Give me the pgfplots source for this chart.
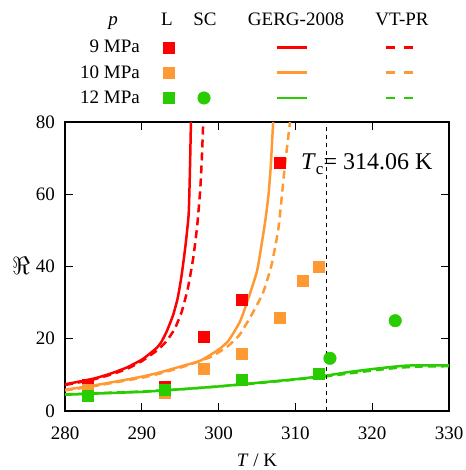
\documentclass[border=0pt]{standalone}
\usepackage{fontspec}
\setmainfont{Liberation Serif}
\usepackage{pgfplots}
\pgfplotsset{compat=1.18}

\definecolor{cRed}{RGB}{255,0,0}
\definecolor{cOrange}{RGB}{255,153,51}
\definecolor{cGreen}{RGB}{40,204,0}

\newcommand{\tickfont}{\fontsize{19}{22}\selectfont}
\newcommand{\legfont}{\fontsize{19}{22}\selectfont}

\pgfplotsset{
  gerg/.style={line width=2.5pt, smooth, tension=0.3},
  vtpr/.style={line width=2.5pt, dash pattern=on 8pt off 5pt, smooth, tension=0.3},
  liq/.style={only marks, mark=square*, mark size=5.5pt, mark options={draw=#1, fill=#1}, color=#1},
  sc/.style={only marks, mark=*, mark size=6.3pt, mark options={draw=#1, fill=#1}, color=#1},
}

\begin{document}
\begin{tikzpicture}
\useasboundingbox (-65pt,-59pt) rectangle (400pt,411pt);

% ---------------- main plot ----------------
\begin{axis}[
  at={(0pt,0pt)}, anchor=south west,
  scale only axis, width=384pt, height=289pt,
  xmin=280, xmax=330, ymin=0, ymax=80,
  xtick={280,290,...,330}, ytick={0,20,...,80},
  tick align=inside, major tick length=8pt,
  every tick/.style={black, line width=1.2pt},
  axis line style={line width=1.4pt},
  ticklabel style={font=\tickfont, inner sep=0pt},
  xticklabel style={yshift=-16pt},
  yticklabel style={xshift=-10pt},
  /pgf/number format/assume math mode=true,
  clip=true,
]

% GERG-2008
\addplot[cRed, gerg] coordinates {
 (280,7.4)(282,8.2)(284,9.1)(286,10.4)(288,12.0)(290,14.2)(291,15.8)(292,17.6)
 (292.6,19.3)(293.3,22.3)(294.1,26.7)(294.7,31.5)(295.2,37.8)(295.7,46)(296.1,54.4)
 (296.25,65)(296.4,80)};
\addplot[cOrange, gerg] coordinates {
 (280,5.9)(283,6.8)(287,8.3)(290,9.5)(292.4,10.7)(295,12.3)(297.6,13.9)(300,17.0)
 (301.3,19.5)(302.8,24.8)(303.9,31.3)(305.0,38.7)(305.6,46.1)(306.1,53)(306.5,59.9)
 (306.8,68)(307.1,80)};
\addplot[cGreen, gerg] coordinates {
 (280,4.5)(285,4.9)(290,5.3)(295,6.0)(300,6.8)(305,7.8)(310,8.8)(314,9.8)
 (317,10.8)(320,11.6)(323,12.3)(325,12.6)(330,12.6)};

% VT-PR
\addplot[cRed, vtpr] coordinates {
 (280,7.2)(282,8.0)(284,8.9)(286,10.1)(288,11.6)(290,13.8)(292,16.8)(293.2,19.3)
 (294.3,22.8)(295.2,27.5)(296.0,34)(296.7,42.4)(297.2,51)(297.6,61)(297.8,69)(298.0,80)};
\addplot[cOrange, vtpr] coordinates {
 (280,5.7)(283,6.6)(287,8.1)(290,9.2)(292.4,10.4)(295,12.0)(297,13.4)(299,15.0)
 (301,17.6)(302.7,21)(304.4,27)(305.8,32.8)(306.9,40.5)(307.8,50.7)(308.6,67.3)(309.3,80)};
\addplot[cGreen, vtpr] coordinates {
 (280,4.6)(285,5.0)(290,5.4)(295,6.0)(300,6.8)(305,7.7)(310,8.7)(314,9.6)
 (317,10.4)(320,11.2)(323,11.9)(326,12.3)(330,12.4)};

% critical temperature
\draw[black, line width=1.8pt, dash pattern=on 4pt off 4pt]
  (axis cs:314.06,0) -- (axis cs:314.06,80);

% liquid (L) measurements
\addplot[liq=cRed] coordinates {(283,7.3)(293,6.7)(298,20.7)(303,30.7)(308,68.8)};
\addplot[liq=cOrange] coordinates {(283,5.8)(293,5.1)(298,11.8)(303,16.0)(308,25.8)(311,36.2)(313,40.0)};
\addplot[liq=cGreen] coordinates {(283,4.2)(293,5.9)(303,8.6)(313,10.4)};
% supercritical (SC) measurements
\addplot[sc=cGreen] coordinates {(314.5,14.6)(323,25.0)};
\end{axis}

% ---------------- legend table and labels ----------------
\begin{axis}[
  at={(-65pt,-59pt)}, anchor=south west,
  scale only axis, width=465pt, height=470pt,
  xmin=0, xmax=465, ymin=0, ymax=470,
  hide axis, clip=false,
]
% header row
\node[anchor=base, inner sep=0pt, font=\legfont] at (axis cs:113,444) {\textit{p}};
\node[anchor=base, inner sep=0pt, font=\legfont] at (axis cs:167,444) {L};
\node[anchor=base, inner sep=0pt, font=\legfont] at (axis cs:205,444) {SC};
\node[anchor=base, inner sep=0pt, font=\legfont] at (axis cs:296,444) {GERG-2008};
\node[anchor=base, inner sep=0pt, font=\legfont] at (axis cs:402,444) {VT-PR};
% pressure labels
\node[anchor=base east, inner sep=0pt, font=\legfont] at (axis cs:140,417) {9 MPa};
\node[anchor=base east, inner sep=0pt, font=\legfont] at (axis cs:140,391.7) {10 MPa};
\node[anchor=base east, inner sep=0pt, font=\legfont] at (axis cs:140,366.7) {12 MPa};
% L column
\addplot[liq=cRed] coordinates {(168.7,422.7)};
\addplot[liq=cOrange] coordinates {(168.7,397.7)};
\addplot[liq=cGreen] coordinates {(168.7,372)};
% SC column
\addplot[sc=cGreen] coordinates {(204,372)};
% GERG-2008 column
\addplot[cRed, line width=2.5pt] coordinates {(276.7,422.7)(306.7,422.7)};
\addplot[cOrange, line width=2.5pt] coordinates {(276.7,397.7)(306.7,397.7)};
\addplot[cGreen, line width=2.5pt] coordinates {(276.7,372)(306.7,372)};
% VT-PR column
\addplot[cRed, line width=2.5pt, dash pattern=on 9.3pt off 8.7pt] coordinates {(385.7,422.7)(413.3,422.7)};
\addplot[cOrange, line width=2.5pt, dash pattern=on 9.3pt off 8.7pt] coordinates {(385.7,397.7)(413.3,397.7)};
\addplot[cGreen, line width=2.5pt, dash pattern=on 9.3pt off 8.7pt] coordinates {(385.7,372)(413.3,372)};

% axis labels and critical-temperature annotation
\node[anchor=base, inner sep=0pt, font=\tickfont] at (axis cs:257,4) {\textit{T} / K};
\node[inner sep=0pt] at (axis cs:21,204) {\fontsize{24}{26}\selectfont$\Re$};
\node[anchor=base west, inner sep=0pt, font=\fontsize{24}{26}\selectfont] at (axis cs:301,300.7)
  {\textit{T}\raisebox{-0.45ex}{\fontsize{17}{18}\selectfont c}= 314.06 K};
\end{axis}
\end{tikzpicture}
\end{document}
